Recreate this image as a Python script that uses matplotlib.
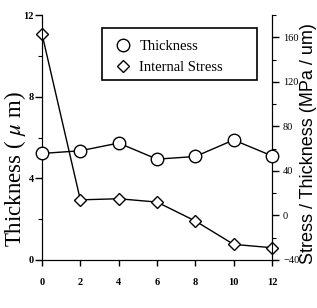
import matplotlib.pyplot as plt
from matplotlib.ticker import MultipleLocator
from matplotlib.patches import Rectangle

# data
x = [0, 2, 4, 6, 8, 10, 12]
thickness = [5.22, 5.35, 5.73, 4.94, 5.07, 5.88, 5.10]
stress = [163, 14, 15, 12, -5, -26, -29]

plt.rcParams['font.family'] = ['Liberation Serif', 'DejaVu Serif']
plt.rcParams['mathtext.fontset'] = 'stix'

fig = plt.figure(figsize=(3.17, 3.08), dpi=100)
ax1 = fig.add_axes([0.1325, 0.156, 0.7255, 0.795])
ax2 = ax1.twinx()

l1, = ax1.plot(x, thickness, color='k', lw=1, marker='o', ms=9,
               mfc='white', mec='k', mew=1, clip_on=False, zorder=3)
l2, = ax2.plot(x, stress, color='k', lw=1, marker='D', ms=6.5,
               mfc='white', mec='k', mew=1, clip_on=False, zorder=3)

ax1.set_xlim(0, 12)
ax1.set_ylim(0, 12)
ax2.set_ylim(-40, 180)

ax1.xaxis.set_major_locator(MultipleLocator(2))
ax1.yaxis.set_major_locator(MultipleLocator(4))
ax1.yaxis.set_minor_locator(MultipleLocator(2))
ax2.set_yticks([-40, 0, 40, 80, 120, 160])
ax2.yaxis.set_minor_locator(MultipleLocator(20))

for ax in (ax1, ax2):
    ax.spines['top'].set_visible(False)
    ax.tick_params(which='minor', direction='out', length=3, width=0.8)
ax1.tick_params(axis='x', which='major', direction='out', length=4, width=1,
                labelsize=7.5, pad=9)
ax1.tick_params(axis='y', which='major', direction='out', length=5, width=1,
                labelsize=7.5, pad=1)
ax2.tick_params(axis='y', which='major', direction='out', length=5, width=1,
                labelsize=7.5, pad=3)
for lab in ax1.get_xticklabels() + ax1.get_yticklabels():
    lab.set_fontweight('bold')

fig.text(0.047, 0.45, 'Thickness ( $\\mu$ m)', rotation=90,
         ha='center', va='center', fontsize=16.5)
fig.text(0.974, 0.534, 'Stress / Thickness (MPa / um)', rotation=90,
         ha='center', va='center', fontsize=13,
         family=['Liberation Sans', 'DejaVu Sans'])

# legend with a roomy frame like the original
ax1.add_patch(Rectangle((0.261, 0.735), 0.674, 0.212, transform=ax1.transAxes,
                        fill=False, ec='k', lw=1.2, clip_on=False, zorder=4))
leg = ax1.legend([l1, l2], ['Thickness', 'Internal Stress'],
                 loc='upper left', bbox_to_anchor=(0.325, 0.90),
                 fontsize=10.5, frameon=False,
                 handlelength=0.8, handletextpad=0.75, borderpad=0,
                 borderaxespad=0, labelspacing=0.55)
for h in leg.legend_handles:
    h.set_linestyle('none')
ax1.set_zorder(ax2.get_zorder() + 1)
ax1.patch.set_visible(False)

fig.savefig('out.png', dpi=100)
